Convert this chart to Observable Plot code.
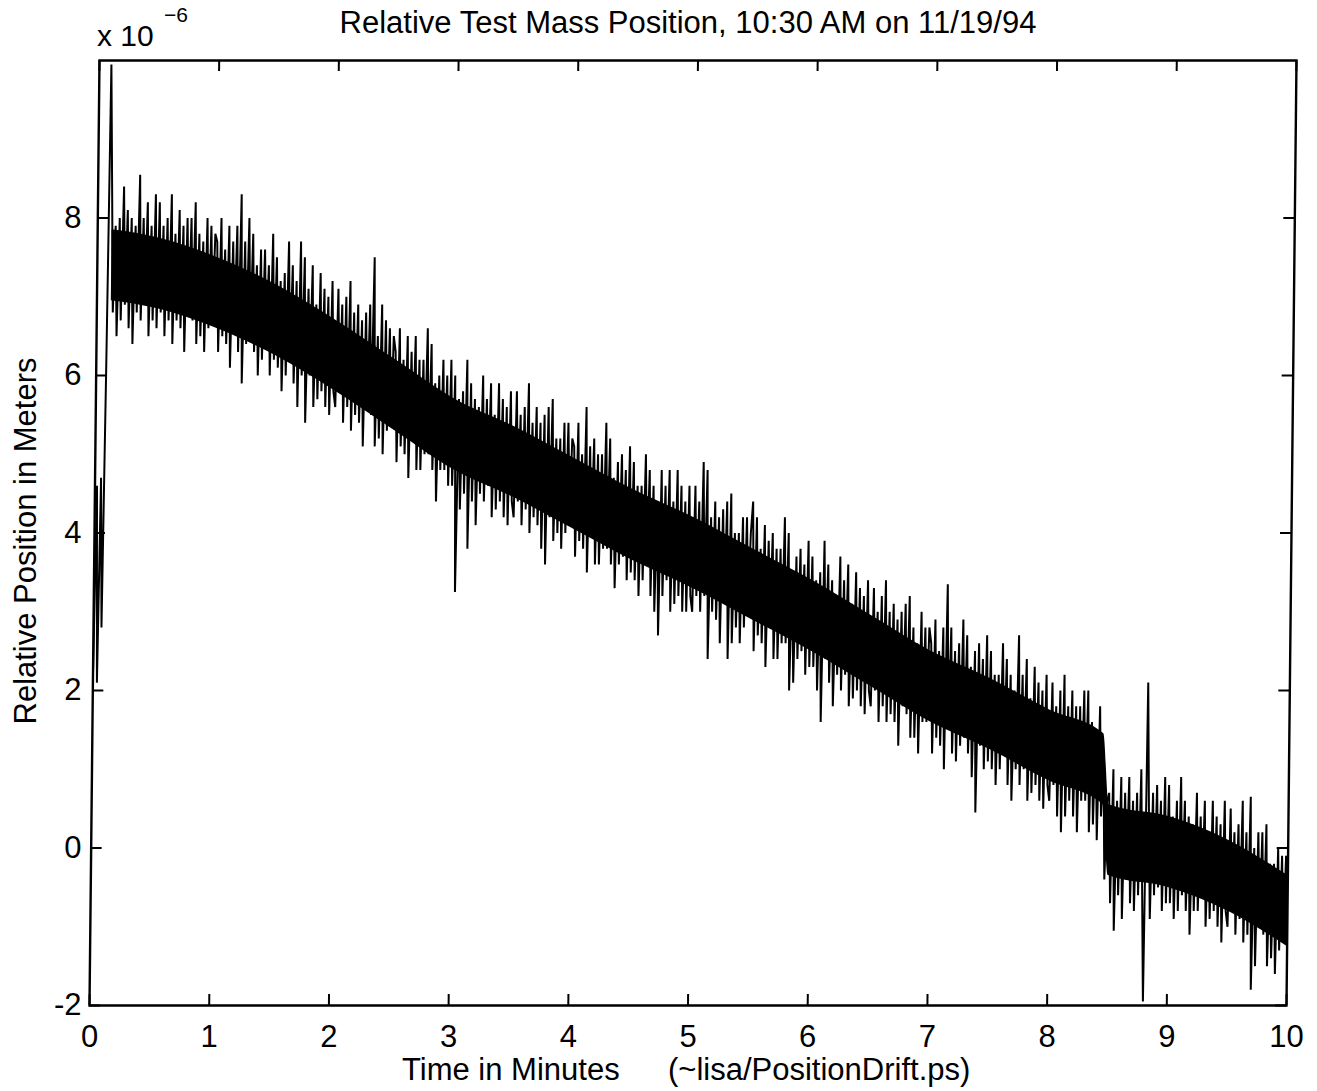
<!DOCTYPE html>
<html>
<head>
<meta charset="utf-8">
<script src="https://cdn.jsdelivr.net/npm/d3@7"></script>
<script src="https://cdn.jsdelivr.net/npm/@observablehq/plot@0.6"></script>
<style>
  html, body { margin: 0; padding: 0; background: #fff; }
  #chart { position: relative; width: 1317px; height: 1091px; overflow: hidden;
           font-family: "Liberation Sans", Arial, Helvetica, sans-serif; }
  #chart > svg { position: absolute; left: 0; top: 0; }
</style>
</head>
<body>
<div id="chart"></div>
<script>
// Relative position, in units of 1e-6 m, one sample per second over 10 minutes
const position = [
  2.2, 4.6, 2.1, 4.7, 2.8, 6.1, 9.95,
  8.4, 6.8, 7.9, 6.5, 8.0, 6.7, 8.4, 6.9, 8.1, 6.6, 8.0, 6.4, 7.9, 6.8, 8.55, 6.7, 8.0, 6.9, 8.2, 6.5, 7.9, 6.7, 8.3,
  6.6, 8.2, 6.8, 7.9, 6.5, 8.0, 6.7, 8.3, 6.4, 7.8,
  6.7, 8.1, 6.6, 7.9, 6.3, 8.0, 6.8, 8.0, 6.7, 8.2,
  6.4, 7.8, 6.5, 7.7, 6.3, 8.0, 6.6, 7.9, 6.7, 7.8,
  7.7, 6.3, 8.0, 6.5, 7.6, 6.4, 7.9, 6.1, 7.7, 6.6,
  7.9, 6.3, 8.3, 5.9, 7.7, 6.4, 8.0, 6.5, 7.8, 6.3,
  7.4, 6.0, 7.6, 6.2, 7.6, 6.4, 7.4, 6.0, 7.8, 6.2,
  7.5, 6.1, 7.2, 5.8, 7.3, 6.0, 7.7, 6.2, 7.4, 5.9,
  7.2, 5.6, 7.7, 6.0, 7.5, 5.4, 7.1, 6.0, 7.4, 5.6,
  6.9, 5.7, 7.3, 5.8, 7.1, 5.6, 7.0, 5.5, 7.2, 5.8,
  5.6, 7.1, 5.8, 6.9, 5.4, 7.0, 5.6, 7.2, 5.3, 6.8,
  5.5, 6.9, 5.4, 6.7, 5.1, 6.8, 5.6, 6.9, 5.5, 7.5,
  5.1, 6.5, 5.2, 6.9, 5.0, 6.7, 5.3, 6.6, 5.4, 6.5,
  6.3, 4.9, 6.6, 5.1, 6.2, 5.0, 6.5, 4.7, 6.3, 5.2,
  6.5, 4.8, 6.2, 4.8, 6.2, 5.0, 6.6, 5.0, 6.4, 4.8,
  5.9, 4.4, 6.0, 4.8, 6.2, 4.8, 6.0, 4.6, 6.2, 4.6,
  6.0, 3.25, 5.7, 4.3, 5.8, 4.5, 6.2, 3.8, 5.9, 4.4,
  5.7, 4.1, 5.6, 4.5, 6.0, 4.4, 5.7, 4.6, 5.9, 4.2,
  5.5, 4.3, 5.9, 4.4, 5.7, 4.2, 5.6, 4.1, 5.8, 4.4,
  4.2, 5.8, 4.4, 5.5, 4.1, 5.6, 4.3, 5.9, 4.0, 5.4,
  4.2, 5.6, 4.1, 5.4, 3.8, 5.5, 3.6, 5.6, 4.2, 5.7,
  3.9, 5.2, 4.0, 5.2, 3.8, 5.4, 4.0, 5.4, 4.2, 5.2,
  5.1, 3.7, 5.4, 3.9, 5.0, 3.8, 5.6, 3.5, 5.1, 4.0,
  5.2, 3.6, 5.0, 3.6, 5.0, 3.8, 5.4, 3.8, 5.2, 3.6,
  4.7, 3.3, 4.9, 3.6, 5.0, 3.7, 4.8, 3.4, 5.1, 3.5,
  4.9, 3.4, 4.6, 3.2, 4.6, 3.4, 5.0, 3.6, 4.8, 3.2,
  4.6, 3.0, 4.4, 2.7, 4.8, 3.2, 4.6, 3.4, 4.8, 3.0,
  4.4, 3.1, 4.8, 3.2, 4.6, 3.0, 4.4, 3.0, 4.6, 3.2,
  3.0, 4.6, 3.2, 4.4, 3.0, 4.9, 3.2, 4.8, 2.4, 4.2,
  3.0, 4.4, 2.9, 4.2, 2.6, 4.3, 3.1, 4.4, 2.4, 4.5,
  2.6, 4.0, 2.8, 4.0, 2.6, 4.2, 2.8, 4.2, 3.0, 4.0,
  4.4, 2.5, 4.2, 2.7, 3.8, 2.6, 4.1, 2.3, 3.9, 2.8,
  4.0, 2.4, 3.8, 2.4, 3.8, 2.6, 4.2, 2.6, 4.0, 2.0,
  3.5, 2.1, 3.7, 2.4, 3.8, 2.5, 3.6, 2.2, 3.9, 2.3,
  3.7, 2.3, 3.4, 2.0, 3.5, 1.6, 3.9, 2.4, 3.6, 2.1,
  3.4, 1.8, 3.2, 2.2, 3.7, 2.0, 3.4, 2.2, 3.6, 1.8,
  3.1, 1.9, 3.5, 2.0, 3.3, 1.8, 3.2, 1.7, 3.4, 2.0,
  1.8, 3.3, 2.0, 3.0, 1.6, 3.2, 1.8, 3.4, 1.6, 3.0,
  1.7, 3.1, 1.6, 2.9, 1.3, 3.0, 1.8, 3.1, 1.7, 3.2,
  1.4, 2.8, 1.4, 2.6, 1.2, 3.0, 1.6, 2.8, 1.6, 2.8,
  2.6, 1.2, 2.9, 1.4, 2.5, 1.3, 2.8, 1.0, 3.35, 1.5,
  2.8, 1.2, 2.5, 1.1, 2.6, 1.3, 2.9, 1.4, 2.7, 1.2,
  2.3, 0.9, 2.5, 0.45, 2.6, 1.3, 2.4, 1.0, 2.7, 1.1,
  2.5, 1.0, 2.2, 0.8, 2.2, 1.0, 2.6, 1.2, 2.4, 0.8,
  2.2, 0.6, 2.0, 1.0, 2.7, 0.8, 2.2, 1.0, 2.4, 0.6,
  1.9, 0.7, 2.3, 0.8, 2.1, 0.6, 2.0, 0.5, 2.2, 0.8,
  0.6, 2.1, 0.8, 1.8, 0.4, 2.0, 0.2, 2.2, 0.4, 1.8,
  0.6, 2.0, 0.4, 1.8, 0.2, 1.8, 0.6, 2.0, 0.6, 2.0,
  0.2, 1.6, 0.3, 1.5, 0.1, 1.8, 0.4, 1.1, -0.4, 0.6,
  0.7, -0.7, 1.0, -1.05, 0.6, -0.6, 0.9, -0.9, 0.7, -0.4,
  0.9, -0.7, 0.6, -0.8, 0.7, -0.6, 1.0, -0.5, -1.95, 2.1,
  0.5, -0.9, 0.7, -0.6, 0.8, -0.5, 0.6, -0.8, 0.9, -0.7,
  0.8, -0.7, 0.4, -0.9, 0.6, -0.8, 0.9, -0.6, 0.6, -0.8,
  0.4, -1.1, 0.3, -0.8, 0.7, -0.8, 0.4, -0.6, 0.6, -1.0,
  0.2, -0.9, 0.6, -0.8, 0.4, -1.0, 0.3, -1.2, 0.6, -0.8,
  -1.0, 0.5, -0.8, 0.2, -1.1, 0.3, -0.9, 0.6, -1.2, 0.2,
  -1.1, 0.65, -1.8, 0.0, -1.5, 0.2, -1.0, 0.2, -1.1, 0.3,
  -1.5, -0.2, -1.4, -0.2, -1.6, 0.0, -1.3, -0.1, -1.2, -0.1, -1.3
];
const sampleMinutes = 1 / 60;

// Densely overdrawn core of the noise band, minutes / 1e-6 m
const bandTime = [0.12, 0.5, 1.0, 1.5, 2.0, 2.5, 3.0, 3.5, 4.0, 4.5, 5.0, 5.5, 6.0, 6.5, 7.0,
  7.5, 8.0, 8.45, 8.5, 9.0, 9.5, 10.0];
const bandLow = [6.95, 6.85, 6.6, 6.25, 5.8, 5.3, 4.8, 4.45, 4.05, 3.65, 3.3, 2.9, 2.5, 2.05, 1.6,
  1.25, 0.85, 0.55, -0.35, -0.5, -0.8, -1.25];
const bandHigh = [7.85, 7.75, 7.5, 7.15, 6.7, 6.2, 5.7, 5.35, 4.95, 4.55, 4.2, 3.8, 3.4, 2.95, 2.5,
  2.15, 1.75, 1.45, 0.55, 0.4, 0.1, -0.35];

const xTicks = [0, 1, 2, 3, 4, 5, 6, 7, 8, 9, 10];
const yTicks = [-2, 0, 2, 4, 6, 8];
const xDomain = [0, 10];
const yDomain = [-2, 10];
const titleText = "Relative Test Mass Position, 10:30 AM on 11/19/94";
const xLabelText = "Time in Minutes";
const xNoteText = "(~lisa/PositionDrift.ps)";
const yLabelText = "Relative Position in Meters";
const multiplierBase = "x 10";
const multiplierExp = "\u22126";

const data = position.map((v, i) => ({t: i * sampleMinutes, v}));
const band = bandTime.map((t, i) => ({t, lo: bandLow[i], hi: bandHigh[i]}));

const W = 1317, H = 1091, mL = 89, mR = 31, mT = 60, mB = 86;
const frameW = W - mL - mR, frameH = H - mT - mB, tickLen = 11;
const font = '"Liberation Sans", Arial, Helvetica, sans-serif';
const chart = document.getElementById("chart");

const common = {
  width: W, height: H, marginLeft: mL, marginRight: mR, marginTop: mT, marginBottom: mB,
  style: {background: "transparent", fontFamily: font, fontSize: "31px", color: "#000", overflow: "visible"}
};

// Plot area: trace, box, inward tick marks
const plotA = Plot.plot({
  ...common,
  x: {domain: xDomain, axis: null},
  y: {domain: yDomain, axis: null},
  marks: [
    Plot.areaY(band, {x: "t", y1: "lo", y2: "hi", fill: "#000", curve: "monotone-x", clip: true}),
    Plot.line(data, {x: "t", y: "v", stroke: "#000", strokeWidth: 2, strokeLinejoin: "miter", clip: true}),
    Plot.tickX(xTicks, {x: d => d, insetTop: frameH - tickLen, stroke: "#000", strokeWidth: 2}),
    Plot.tickX(xTicks, {x: d => d, insetBottom: frameH - tickLen, stroke: "#000", strokeWidth: 2}),
    Plot.tickY(yTicks, {y: d => d, insetRight: frameW - tickLen, stroke: "#000", strokeWidth: 2}),
    Plot.tickY(yTicks, {y: d => d, insetLeft: frameW - tickLen, stroke: "#000", strokeWidth: 2}),
    Plot.frame({stroke: "#000", strokeWidth: 2.4})
  ]
});
plotA.style.transformOrigin = `${mL}px ${H - mB}px`;
plotA.style.transform = "skewX(-0.606deg)";
chart.appendChild(plotA);

// Tick labels
const plotB = Plot.plot({
  ...common,
  x: {domain: xDomain},
  y: {domain: yDomain},
  marks: [
    Plot.axisX({ticks: xTicks, tickFormat: d => String(d), tickSize: 0, tickPadding: 19, label: null, fontSize: 31, fill: "#000"}),
    Plot.axisY({ticks: yTicks, tickFormat: d => String(d), tickSize: 0, tickPadding: 8, label: null, fontSize: 31, fill: "#000"})
  ]
});
chart.appendChild(plotB);

// Titles
const over = d3.select(chart).append("svg")
  .attr("width", W).attr("height", H)
  .style("font-family", font).style("fill", "#000");
over.append("text").attr("x", 688).attr("y", 33).attr("text-anchor", "middle")
  .style("font-size", "31px").text(titleText);
over.append("text").attr("x", 97).attr("y", 46).style("font-size", "30px").text(multiplierBase);
over.append("text").attr("x", 164).attr("y", 22).style("font-size", "21px").text(multiplierExp);
over.append("text").attr("x", 402).attr("y", 1080).style("font-size", "31px").text(xLabelText);
over.append("text").attr("x", 668).attr("y", 1080).style("font-size", "31px").text(xNoteText);
over.append("text").attr("transform", "translate(36,541) rotate(-90)").attr("text-anchor", "middle")
  .style("font-size", "31px").text(yLabelText);
</script>
</body>
</html>
